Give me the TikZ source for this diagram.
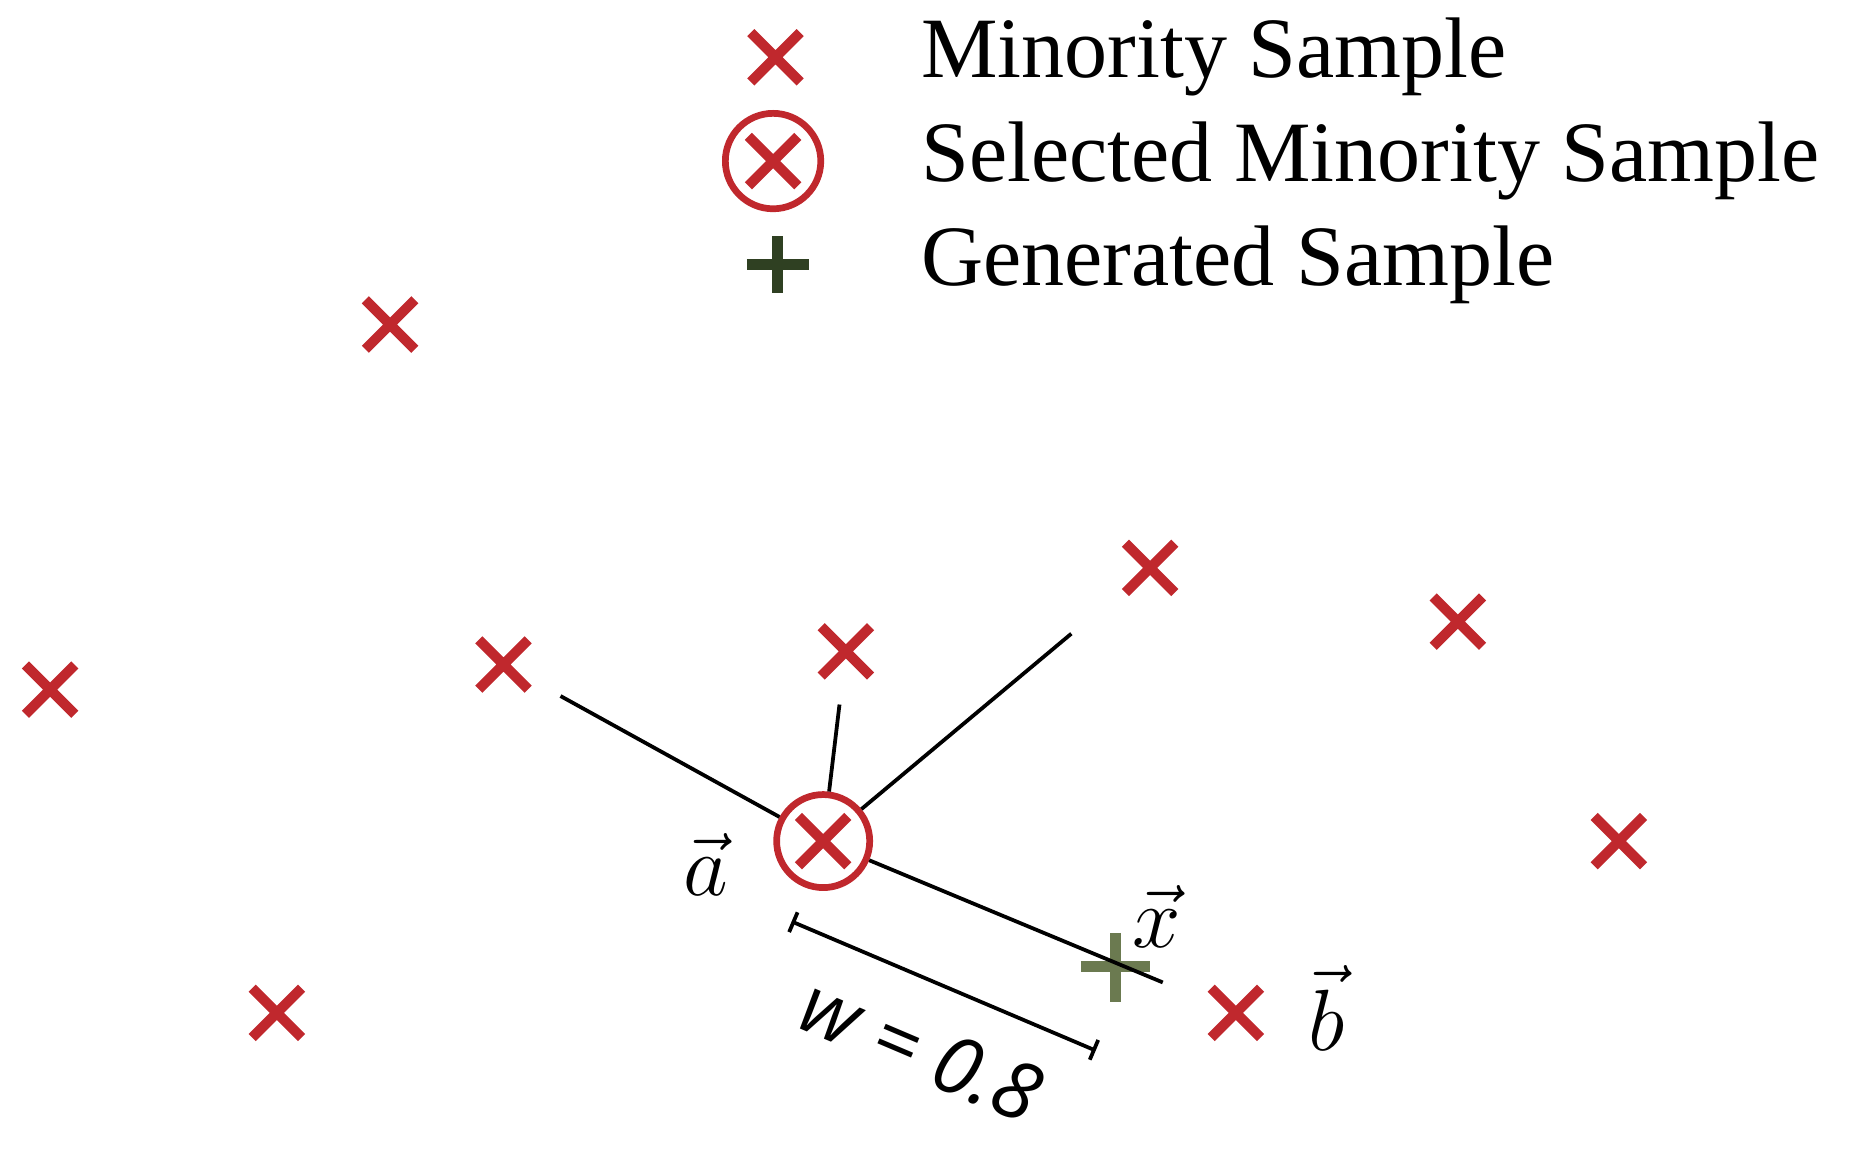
\documentclass[tikz,border=0pt]{standalone}
\usepackage{fontspec}
\setmainfont{Liberation Serif}
\newfontfamily\lblfont{Open Sans}
\usetikzlibrary{calc}
\definecolor{mred}{HTML}{C0282D}
\definecolor{mgreen}{HTML}{2F4022}
\definecolor{olive}{HTML}{6B7A50}
\newcommand{\mcross}[2]{\node[inner sep=0,minimum size=40*0.01cm] (#1) at (#2) {};
 \draw[mred,line width=2.4pt] (#1.north west)--(#1.south east) (#1.north east)--(#1.south west);}
\begin{document}
\begin{tikzpicture}[x=0.01cm,y=-0.01cm,
  lbl/.style={font=\fontsize{20.5}{24}\selectfont,anchor=west},
  link/.style={line width=0.9pt,black}]
\useasboundingbox (0,0) rectangle (1570,972);
% legend
\mcross{l1}{650,48}
\mcross{l2}{648,135}
\node[draw=mred,circle,line width=1.6pt,minimum size=80*0.01cm] (l2c) at (648,135) {};
\draw[mgreen,line width=2.6pt] (652,198)--(652,246) (626,222)--(678,222);
\coordinate (l3) at (652,222);
\node[lbl] (t1) at (760,48) {Minority Sample};
\node[lbl] (t2) at (760,135) {Selected Minority Sample};
\node[lbl] (t3) at (760,222) {Generated Sample};
% points
\mcross{p1}{327,272}
\mcross{p2}{42,578}
\mcross{p3}{422,557}
\mcross{p4}{709,546}
\mcross{p5}{964,476}
\mcross{p6}{1222,521}
\mcross{p7}{1357,705}
\mcross{p8}{232,849}
\mcross{b}{1036,849}
\mcross{ax}{690,705}
\node[draw=mred,circle,line width=1.6pt,minimum size=78*0.01cm] (a) at (690,705) {};
\draw[olive,line width=2.6pt] (935,782)--(935,840) (906,810)--(964,810);
\coordinate (x) at (935,810);
% links
\draw[link,shorten >=0.31cm] (a) -- (p3);
\draw[link,shorten >=0.24cm] (a) -- (p4);
\draw[link,shorten >=0.59cm] (a) -- (p5);
\draw[link,shorten >=0.44cm] (a) -- (b);
% labels
\node (la) at (592,725) {\fontsize{22}{24}\selectfont$\vec{a}$};
\node (lx) at (970,768) {\fontsize{22}{24}\selectfont$\vec{x}$};
\node (lb) at (1112,845) {\fontsize{22}{24}\selectfont$\vec{b}$};
% bracket
\coordinate (w1) at (665,773);
\coordinate (w2) at (917,880);
\draw[line width=0.9pt] (w1)--(w2);
\draw[line width=0.9pt] ($(w1)!0.09cm!90:(w2)$)--($(w1)!0.09cm!-90:(w2)$);
\draw[line width=0.9pt] ($(w2)!0.09cm!90:(w1)$)--($(w2)!0.09cm!-90:(w1)$);
\node[rotate=-23,font=\lblfont\itshape\fontsize{19}{22}\selectfont] (wl) at (772,880) {w = 0.8};
\end{tikzpicture}
\end{document}
